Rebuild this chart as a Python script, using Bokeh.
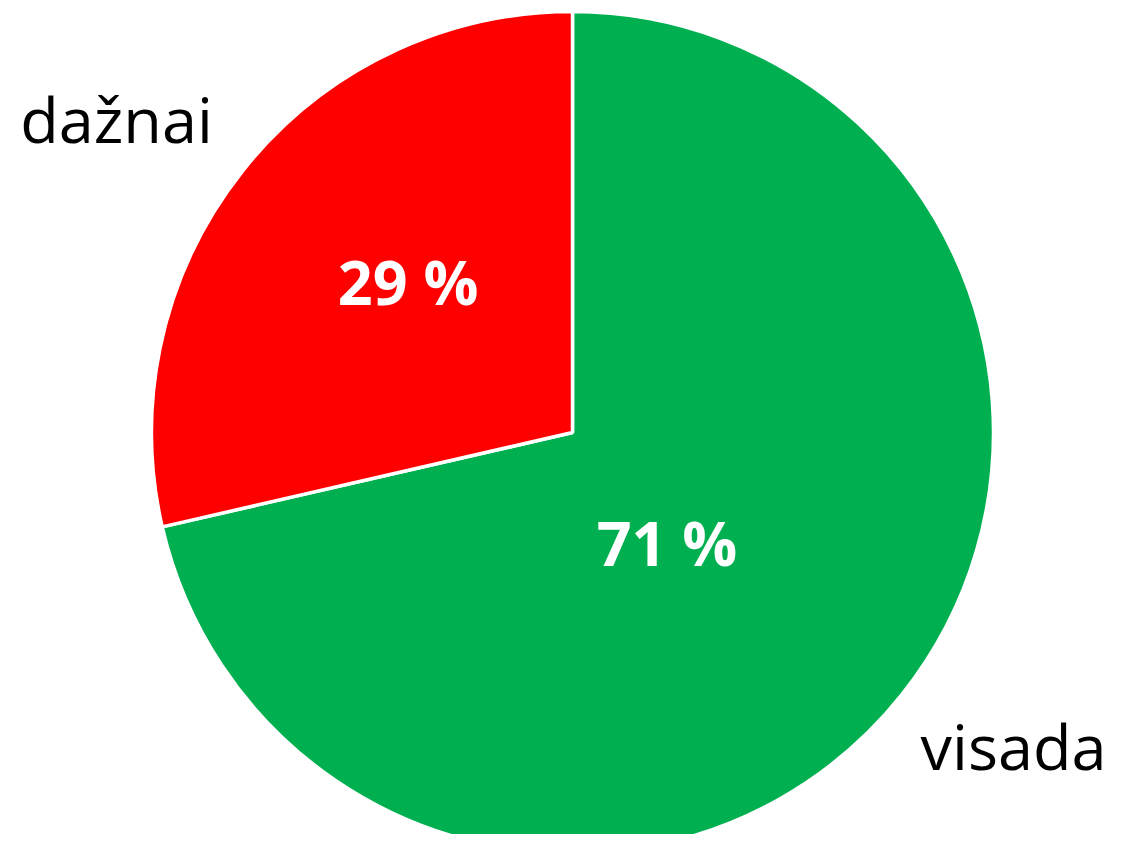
import math
from bokeh.plotting import figure
from bokeh.models import ColumnDataSource
from bokeh.core.properties import value
from bokeh.embed import file_html
from bokeh.resources import INLINE

# ---- data ----
categories = ["visada", "dažnai"]
shares = [71.4, 28.6]
colors = ["#00B050", "#FF0000"]
pct_labels = [f"{round(s)} %" for s in shares]

# ---- layout ----
W, H = 1109, 834
cx, cy, R = 572, H - 432, 421
FONT = "Open Sans"

total = sum(shares)
starts, ends = [], []
a = math.pi / 2  # start at 12 o'clock, go clockwise
for s in shares:
    sweep = 2 * math.pi * s / total
    ends.append(a)
    starts.append(a - sweep)
    a -= sweep

src = ColumnDataSource(dict(x=[cx] * len(shares), y=[cy] * len(shares),
                            start=starts, end=ends, color=colors, cat=categories))

p = figure(width=W, height=H, x_range=(0, W), y_range=(0, H),
           output_backend="svg", toolbar_location=None, min_border=0)
p.axis.visible = False
p.grid.visible = False
p.outline_line_color = None
p.background_fill_color = "white"

p.wedge(x="x", y="y", radius=R, start_angle="start", end_angle="end",
        direction="anticlock", fill_color="color", line_color="white",
        line_width=3.5, source=src)

# percentage labels: placed along each slice's mid angle
label_r = [0.345, 0.53]
label_da = [-0.19, -0.07]
lx, ly = [], []
for i in range(len(shares)):
    mid = (starts[i] + ends[i]) / 2 + label_da[i]
    lx.append(cx + label_r[i] * R * math.cos(mid))
    ly.append(cy + label_r[i] * R * math.sin(mid))
p.text(x=lx, y=ly, text=pct_labels, text_color="white",
       text_font=value(FONT), text_font_style="bold", text_font_size="61px",
       text_align="center", text_baseline="middle")

# category labels outside the pie
p.text(x=[W - 3], y=[cy - 313], text=[categories[0]], text_color="black",
       text_font=value(FONT), text_font_size="63px",
       text_align="right", text_baseline="middle")
p.text(x=[cx - 456], y=[cy + 314], text=[categories[1]], text_color="black",
       text_font=value(FONT), text_font_size="63px",
       text_align="center", text_baseline="middle")

open("out.html", "w").write(file_html(p, INLINE))
